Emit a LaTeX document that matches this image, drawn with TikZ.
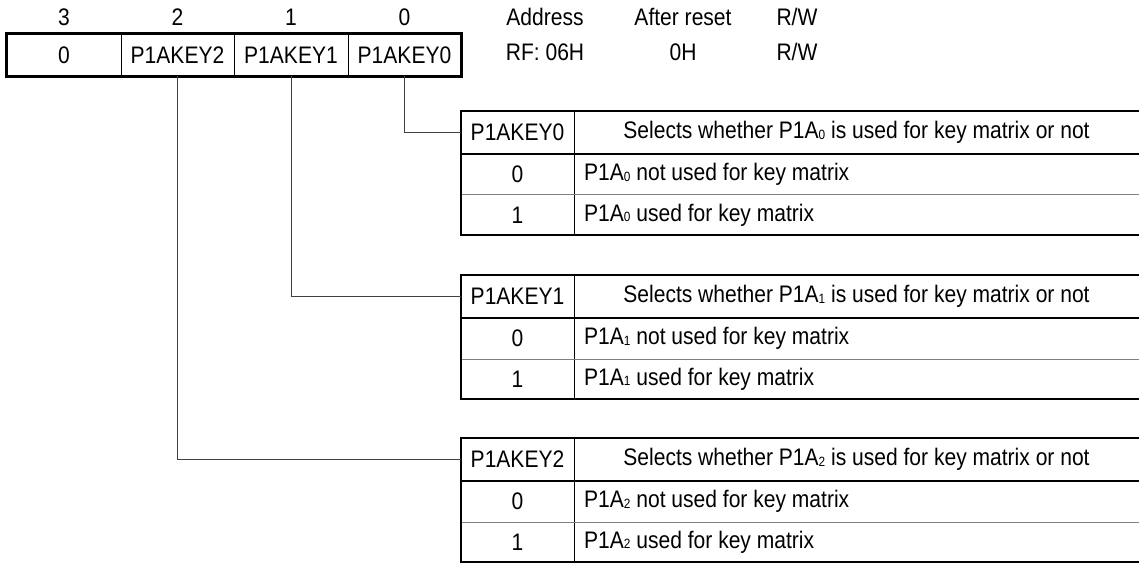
\documentclass[tikz,border=0pt]{standalone}
\usepackage{fontspec}
\setmainfont{Liberation Sans}[FakeStretch=0.88]
\newcommand\lsub[1]{\raisebox{-0.5bp}{\fontsize{13.5}{13.5}\selectfont #1}}
\newcommand\bittable[3]{%
  \node[hcell] (#3) at (517.5,#1+21.5) {P1AKEY#2};
  \node[txt] (#3h) at (856.5,#1+21.5) {Selects whether P1A\lsub{#2} is used for key matrix or not};
  \node[txt] (#3z) at (517.5,#1+63.5) {0};
  \node[txt,anchor=west] (#3zt) at (584,#1+63.5) {P1A\lsub{#2} not used for key matrix};
  \node[txt] (#3o) at (517.5,#1+104) {1};
  \node[txt,anchor=west] (#3ot) at (584,#1+104) {P1A\lsub{#2} used for key matrix};
  \draw[thinline] (574,#1) -- (574,#1+124);
  \draw[thinline,gray] (461,#1+84) -- (1139,#1+84);
  \draw[thickline] (461,#1+43) -- (1139,#1+43);
  \draw[thickline] (1139,#1) -- (461,#1) -- (461,#1+124) -- (1139,#1+124);
}
\begin{document}
\begin{tikzpicture}[x=1bp,y=-1bp,
  font=\fontsize{24}{28}\selectfont,
  thickline/.style={line width=2.6bp},
  thinline/.style={line width=1bp},
  txt/.style={inner sep=0pt},
  hcell/.style={inner sep=0pt,minimum width=113bp,minimum height=43bp},
  regcell/.style={draw,line width=1bp,inner sep=0pt,minimum height=42bp},
  conn/.style={line width=1bp,draw=black!75}]
\useasboundingbox (0,0) rectangle (1139,563);
% bit numbers
\node[txt] (b3) at (64,17) {3};
\node[txt] (b2) at (177.5,17) {2};
\node[txt] (b1) at (291,17) {1};
\node[txt] (b0) at (404.5,17) {0};
% register
\node[regcell,minimum width=114bp] (r3) at (64,55) {0};
\node[regcell,minimum width=113bp] (r2) at (177.5,55) {P1AKEY2};
\node[regcell,minimum width=114bp] (r1) at (291,55) {P1AKEY1};
\node[regcell,minimum width=113bp] (r0) at (404.5,55) {P1AKEY0};
\draw[thickline] (r3.north west) rectangle (r0.south east);
% address info
\node[txt] (adr) at (545,17) {Address};
\node[txt] (adrv) at (545,52) {RF: 06H};
\node[txt] (rst) at (683,17) {After reset};
\node[txt] (rstv) at (683,52) {0H};
\node[txt] (rw) at (797,17) {R/W};
\node[txt] (rwv) at (797,52) {R/W};
% tables
\bittable{111}{0}{t0}
\bittable{275}{1}{t1}
\bittable{438}{2}{t2}
% connectors
\draw[conn] (r0.south) |- (t0.west);
\draw[conn] (r1.south) |- (t1.west);
\draw[conn] (r2.south) |- (t2.west);
\end{tikzpicture}
\end{document}
